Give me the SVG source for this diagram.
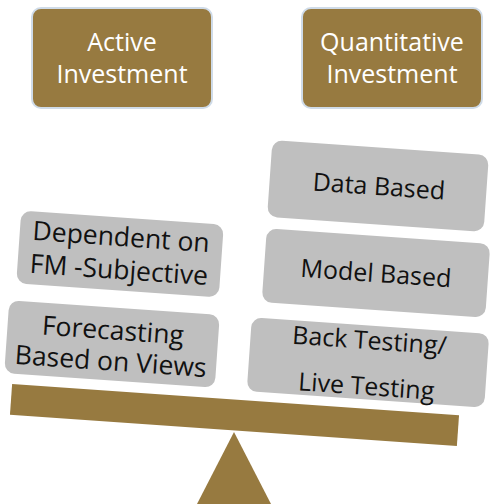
<svg xmlns="http://www.w3.org/2000/svg" width="492" height="504" viewBox="0 0 492 504">
<style>
.hd{fill:#977A40;stroke:#cfdbe8;stroke-width:2}
.gb{fill:#BFBFBF}
.br{fill:#977A40}
text{font-family:"Open Sans","Liberation Sans",sans-serif;font-size:25px;text-anchor:middle}
.lg{font-size:26.5px}
.wt{fill:#ffffff}
.bt{fill:#111111}
</style>
<rect width="492" height="504" fill="#ffffff"/>
<g id="active">
<rect class="hd" x="32" y="8" width="180" height="100" rx="9"/>
<text class="wt" x="122" y="50.5">Active</text>
<text class="wt" x="122" y="82.5">Investment</text>
</g>
<g id="quant">
<rect class="hd" x="302" y="8" width="180" height="100" rx="9"/>
<text class="wt" x="392" y="50.5">Quantitative</text>
<text class="wt" x="392" y="82.5">Investment</text>
</g>
<g id="dependent" transform="rotate(4 120 254)">
<rect class="gb" x="18.5" y="217.5" width="203" height="73" rx="10"/>
<text class="bt lg" x="120" y="246">Dependent on</text>
<text class="bt lg" x="120" y="279">FM -Subjective</text>
</g>
<g id="forecasting" transform="rotate(4 112 344)">
<rect class="gb" x="6.5" y="307.5" width="211" height="73" rx="10"/>
<text class="bt lg" x="112" y="339.5">Forecasting</text>
<text class="bt lg" x="112" y="370.5">Based on Views</text>
</g>
<g id="data" transform="rotate(4 378 186)">
<rect class="gb" x="269.5" y="147.5" width="217" height="77" rx="10"/>
<text class="bt" x="379" y="195">Data Based</text>
</g>
<g id="model" transform="rotate(4 376 273)">
<rect class="gb" x="264" y="236" width="224" height="74" rx="10"/>
<text class="bt" x="376" y="282">Model Based</text>
</g>
<g id="backtest" transform="rotate(4 368 362.5)">
<rect class="gb" x="249" y="325.5" width="238" height="74" rx="10"/>
<text class="bt" x="368" y="349">Back Testing/</text>
<text class="bt" x="368" y="395">Live Testing</text>
</g>
<g id="scale">
<rect class="br" x="10.5" y="399.5" width="448" height="31" transform="rotate(4 234.5 415)"/>
<polygon class="br" points="234,432 197,504 271,504"/>
</g>
<g id="connectors"></g>
</svg>
